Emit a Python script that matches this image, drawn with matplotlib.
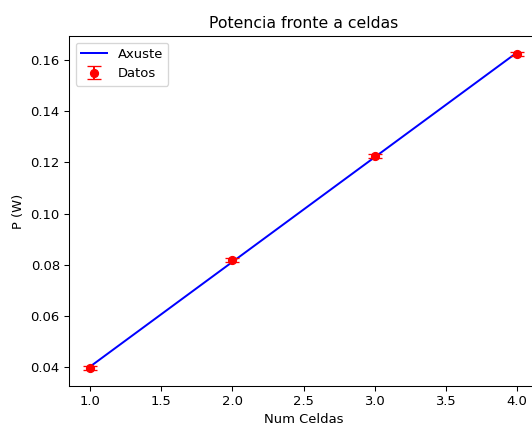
import numpy as np
from matplotlib import pyplot as plt

celdas = np.array([1, 2, 3, 4])
potencia = np.array([0.0397, 0.0819, 0.1223, 0.1623])
erro_p = np.array([0.0008, 0.0008, 0.0008, 0.0008])

# axuste lineal
a, b = np.polyfit(celdas, potencia, 1)
x_fit = np.linspace(1, 4, 50)

dpi = 94.7
fig = plt.figure(figsize=(532 / dpi, 423 / dpi), dpi=dpi)
ax = fig.add_axes([0.1297, 0.0875, 0.8816, 0.8274])

ax.plot(x_fit, a * x_fit + b, color='b', label='Axuste')
ax.errorbar(celdas, potencia, yerr=erro_p, fmt='o', color='r',
            capsize=5, label='Datos')
ax.set_xlabel('Num Celdas')
ax.set_ylabel('P (W)')
ax.set_title('Potencia fronte a celdas')
ax.legend(loc='upper left')

fig.savefig('out.png', dpi=dpi)
